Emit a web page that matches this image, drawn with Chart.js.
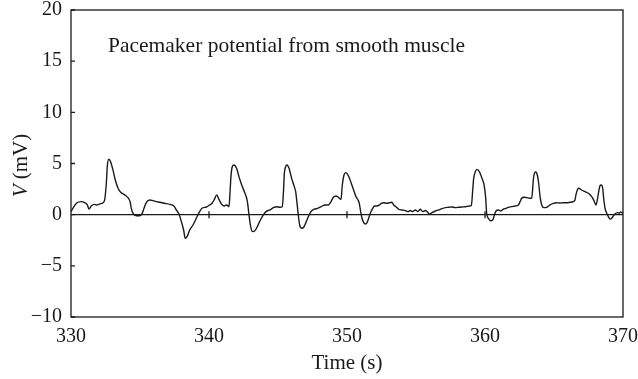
<!DOCTYPE html>
<html>
<head>
<meta charset="utf-8">
<script src="https://cdn.jsdelivr.net/npm/chart.js@4.4.1/dist/chart.umd.min.js"></script>
<style>
  body { margin: 0; background: #fff; }
  canvas { display: block; }
</style>
</head>
<body>
<canvas id="pacemakerChart" width="638" height="379" style="width:638px;height:379px"></canvas>
<script>
const timeS = [
  330.00, 330.14, 330.39, 330.75, 330.99, 331.18, 331.30, 331.47, 331.67, 331.84,
  332.08, 332.32, 332.44, 332.56, 332.63, 332.73, 332.87, 333.04, 333.21, 333.41,
  333.60, 333.89, 334.13, 334.28, 334.37, 334.52, 334.73, 334.98, 335.14, 335.29,
  335.46, 335.70, 335.94, 336.18, 336.43, 336.79, 337.15, 337.46, 337.63, 337.83,
  338.00, 338.16, 338.28, 338.41, 338.60, 338.84, 339.08, 339.32, 339.49, 339.81,
  340.05, 340.22, 340.39, 340.56, 340.72, 340.92, 341.11, 341.28, 341.45, 341.52,
  341.59, 341.69, 341.81, 342.00, 342.17, 342.37, 342.56, 342.73, 342.80, 342.90,
  343.02, 343.16, 343.33, 343.53, 343.70, 343.94, 344.13, 344.42, 344.66, 344.90,
  345.14, 345.31, 345.39, 345.46, 345.56, 345.65, 345.80, 345.99, 346.18, 346.28,
  346.38, 346.47, 346.57, 346.72, 346.86, 347.00, 347.20, 347.39, 347.63, 347.87,
  348.12, 348.41, 348.65, 348.84, 349.01, 349.20, 349.37, 349.57, 349.66, 349.78,
  349.92, 350.10, 350.31, 350.48, 350.65, 350.80, 350.89, 350.99, 351.09, 351.21,
  351.33, 351.45, 351.57, 351.69, 351.86, 352.00, 352.17, 352.34, 352.49, 352.66,
  352.90, 353.07, 353.26, 353.38, 353.55, 353.74, 353.99, 354.23, 354.42, 354.59,
  354.76, 354.95, 355.14, 355.31, 355.48, 355.68, 355.87, 355.97, 356.16, 356.40,
  356.64, 356.88, 357.13, 357.37, 357.61, 357.85, 358.09, 358.33, 358.58, 358.86,
  359.01, 359.11, 359.18, 359.30, 359.42, 359.59, 359.78, 359.95, 360.05, 360.12,
  360.24, 360.41, 360.56, 360.68, 360.80, 360.97, 361.14, 361.33, 361.52, 361.69,
  361.93, 362.17, 362.42, 362.54, 362.66, 362.83, 363.02, 363.26, 363.38, 363.45,
  363.50, 363.57, 363.67, 363.79, 363.89, 363.99, 364.11, 364.28, 364.47, 364.71,
  364.95, 365.19, 365.43, 365.68, 365.92, 366.16, 366.40, 366.52, 366.59, 366.69,
  366.79, 367.00, 367.25, 367.49, 367.73, 367.85, 367.97, 368.04, 368.14, 368.24,
  368.33, 368.43, 368.53, 368.60, 368.70, 368.82, 368.94, 369.06, 369.18, 369.30,
  369.42, 369.59, 369.73, 369.83, 369.93, 370.00
];
const voltageMV = [
  0.30, 0.62, 1.11, 1.27, 1.17, 0.95, 0.56, 0.85, 1.01, 0.95,
  1.05, 1.17, 1.44, 3.07, 4.70, 5.41, 5.18, 4.37, 3.39, 2.58,
  2.19, 1.93, 1.66, 1.27, 0.62, 0.07, -0.10, -0.10, 0.07, 0.62,
  1.21, 1.44, 1.37, 1.27, 1.21, 1.11, 1.01, 0.85, 0.46, 0.04,
  -0.68, -1.50, -2.31, -2.15, -1.50, -1.01, -0.35, 0.30, 0.62, 0.75,
  0.95, 1.11, 1.50, 1.93, 1.50, 1.01, 0.85, 0.95, 0.78, 2.09,
  3.72, 4.70, 4.86, 4.53, 3.72, 2.90, 2.25, 1.60, 1.11, -0.03,
  -1.17, -1.66, -1.56, -1.10, -0.59, -0.03, 0.30, 0.46, 0.69, 0.78,
  0.72, 0.78, 2.09, 4.04, 4.70, 4.86, 4.53, 3.55, 2.74, 2.25,
  1.11, -0.03, -1.01, -1.33, -1.23, -0.85, -0.19, 0.30, 0.53, 0.62,
  0.78, 0.95, 0.95, 1.27, 1.70, 1.83, 1.70, 1.50, 2.90, 3.88,
  4.11, 3.80, 3.07, 2.41, 1.76, 1.44, 1.11, 0.30, -0.35, -0.78,
  -0.91, -0.78, -0.35, 0.14, 0.62, 0.85, 0.85, 0.95, 1.11, 1.17,
  1.11, 1.17, 1.21, 0.95, 0.78, 0.53, 0.46, 0.40, 0.30, 0.40,
  0.30, 0.46, 0.30, 0.53, 0.30, 0.40, 0.20, 0.04, 0.20, 0.36,
  0.46, 0.59, 0.69, 0.72, 0.75, 0.69, 0.72, 0.75, 0.78, 0.85,
  0.88, 2.41, 3.55, 4.20, 4.43, 4.20, 3.55, 2.80, 1.60, 0.14,
  -0.35, -0.59, -0.52, -0.03, 0.36, 0.46, 0.36, 0.53, 0.62, 0.72,
  0.78, 0.85, 0.95, 1.27, 1.60, 1.70, 1.66, 1.60, 1.60, 2.41,
  3.39, 3.98, 4.17, 3.88, 3.07, 1.76, 0.95, 0.69, 0.72, 0.95,
  1.11, 1.17, 1.14, 1.17, 1.17, 1.21, 1.27, 1.44, 1.93, 2.41,
  2.58, 2.41, 2.25, 2.09, 1.76, 1.50, 1.11, 0.95, 1.44, 2.25,
  2.81, 2.90, 2.58, 1.60, 0.62, 0.14, -0.19, -0.42, -0.35, -0.13,
  0.07, 0.20, 0.14, 0.27, 0.20, 0.14
];

const xTicks = [330, 340, 350, 360, 370];
const yTicks = [-10, -5, 0, 5, 10, 15, 20];
const zeroLineTicks = [340, 350, 360];
const caption = 'Pacemaker potential from smooth muscle';

const serif = '"Liberation Serif", "DejaVu Serif", serif';
const ink = '#1a1a1a';

function fmtTick(v) {
  return v < 0 ? '\u2212' + Math.abs(v) : String(v);
}

// frame, inward y ticks, little marks on the zero line, caption and y title
const decorations = {
  id: 'decorations',
  afterDatasetsDraw(chart) {
    const { ctx, chartArea: a, scales: { x, y } } = chart;
    ctx.save();
    ctx.strokeStyle = ink;
    ctx.lineWidth = 1.3;
    ctx.strokeRect(a.left, a.top, a.right - a.left, a.bottom - a.top);

    ctx.beginPath();
    yTicks.forEach(v => {
      const py = y.getPixelForValue(v);
      ctx.moveTo(a.left, py);
      ctx.lineTo(a.left + 4, py);
    });
    const y0 = y.getPixelForValue(0);
    zeroLineTicks.forEach(v => {
      const px = x.getPixelForValue(v);
      ctx.moveTo(px, y0 - 3.5);
      ctx.lineTo(px, y0 + 3.5);
    });
    ctx.stroke();

    ctx.fillStyle = ink;
    ctx.font = '21.5px ' + serif;
    ctx.textBaseline = 'alphabetic';
    ctx.textAlign = 'left';
    ctx.fillText(caption, a.left + 37, a.top + 42);

    // y title: italic V, then " (mV)"
    ctx.translate(27, (a.top + a.bottom) / 2 + 2);
    ctx.rotate(-Math.PI / 2);
    ctx.font = 'italic 21px ' + serif;
    const wV = ctx.measureText('V').width;
    ctx.font = '21px ' + serif;
    const wRest = ctx.measureText(' (mV)').width;
    const start = -(wV + wRest) / 2;
    ctx.font = 'italic 21px ' + serif;
    ctx.fillText('V', start, 0);
    ctx.font = '21px ' + serif;
    ctx.fillText(' (mV)', start + wV, 0);
    ctx.restore();
  }
};

const ctx = document.getElementById('pacemakerChart').getContext('2d');
new Chart(ctx, {
  type: 'line',
  data: {
    datasets: [{
      data: timeS.map((t, i) => ({ x: t, y: voltageMV[i] })),
      borderColor: ink,
      borderWidth: 1.4,
      pointRadius: 0,
      cubicInterpolationMode: 'monotone'
    }, {
      // baseline at 0 mV
      data: [{ x: xTicks[0], y: 0 }, { x: xTicks[xTicks.length - 1], y: 0 }],
      borderColor: ink,
      borderWidth: 1.3,
      pointRadius: 0
    }]
  },
  options: {
    responsive: false,
    animation: false,
    layout: { padding: { top: 10, right: 15, bottom: 0, left: 0 } },
    plugins: {
      legend: { display: false },
      tooltip: { enabled: false }
    },
    scales: {
      x: {
        type: 'linear',
        min: 330,
        max: 370,
        afterBuildTicks(scale) { scale.ticks = xTicks.map(v => ({ value: v })); },
        afterFit(scale) {
          scale.height = 62;
          scale.paddingLeft = 0;
          scale.paddingRight = 0;
        },
        grid: { display: false, drawTicks: false },
        border: { display: false },
        ticks: {
          padding: 8,
          color: ink,
          font: { family: serif, size: 20 },
          maxRotation: 0,
          callback: v => fmtTick(v)
        },
        title: {
          display: true,
          text: 'Time (s)',
          color: ink,
          font: { family: serif, size: 21 },
          padding: { top: 0, bottom: 3 }
        }
      },
      y: {
        min: -10,
        max: 20,
        afterBuildTicks(scale) { scale.ticks = yTicks.map(v => ({ value: v })); },
        afterFit(scale) {
          scale.width = 71;
          scale.paddingTop = 0;
          scale.paddingBottom = 0;
        },
        grid: { display: false, drawTicks: false },
        border: { display: false },
        ticks: {
          padding: 9,
          color: ink,
          font: { family: serif, size: 20 },
          callback: v => fmtTick(v)
        }
      }
    }
  },
  plugins: [decorations]
});
</script>
</body>
</html>
